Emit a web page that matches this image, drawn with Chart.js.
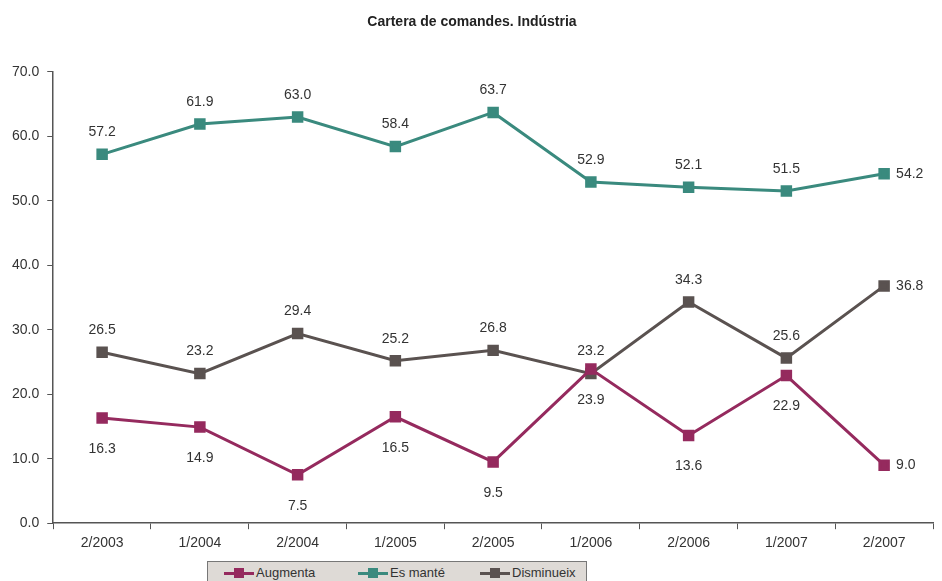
<!DOCTYPE html>
<html><head><meta charset="utf-8">
<script src="https://cdn.jsdelivr.net/npm/chart.js@4"></script>
<style>
body{margin:0;background:#fff;font-family:"Liberation Sans",Arial,sans-serif;}
#wrap{position:relative;width:942px;height:581px;}
#legend{position:absolute;left:207px;top:561px;width:380px;height:24px;background:#dedad6;border:1px solid #777;box-sizing:border-box;font-size:13px;color:#333;}
.it{position:absolute;top:3px;}
.ln{display:inline-block;width:30px;height:3px;vertical-align:middle;position:relative;margin-right:2px;}
.ln b{position:absolute;left:10px;top:-4px;width:10px;height:10px;}
</style></head><body>
<div id="wrap"><canvas id="c" width="942" height="581"></canvas>
<div id="legend">
<span class="it" style="left:16px"><span class="ln" style="background:#952a5e"><b style="background:#952a5e"></b></span>Augmenta</span>
<span class="it" style="left:150px"><span class="ln" style="background:#3a8a7e"><b style="background:#3a8a7e"></b></span>Es manté</span>
<span class="it" style="left:272px"><span class="ln" style="background:#5a5250"><b style="background:#5a5250"></b></span>Disminueix</span>
</div></div>
<script>
const categories=["2/2003","1/2004","2/2004","1/2005","2/2005","1/2006","2/2006","1/2007","2/2007"];
const augmenta=[16.3,14.9,7.5,16.5,9.5,23.9,13.6,22.9,9.0];
const esMante=[57.2,61.9,63.0,58.4,63.7,52.9,52.1,51.5,54.2];
const disminueix=[26.5,23.2,29.4,25.2,26.8,23.2,34.3,25.6,36.8];
const colors=["#952a5e","#3a8a7e","#5a5250"];
const labelPos=["below","above","above"];

const labelsPlugin={
id:"pointLabels",
afterDatasetsDraw(chart){
const ctx=chart.ctx;
ctx.save();
ctx.font="14px 'Liberation Sans', Arial, sans-serif";
ctx.fillStyle="#333";
chart.data.datasets.forEach((ds,i)=>{
chart.getDatasetMeta(i).data.forEach((p,j)=>{
const t=ds.data[j].toFixed(1);
ctx.textBaseline="middle";
if(j===ds.data.length-1){
ctx.textAlign="left";
ctx.fillText(t,p.x+12,p.y);
}else if(labelPos[i]==="below"){
ctx.textAlign="center";
ctx.fillText(t,p.x,p.y+31);
}else{
ctx.textAlign="center";
ctx.fillText(t,p.x,p.y-22);
}
});
});
ctx.restore();
}
};

function ds(label,data,c){
return {label,data,borderColor:c,backgroundColor:c,borderWidth:3,pointStyle:"rect",pointRadius:6,pointHoverRadius:6,tension:0};
}

new Chart(document.getElementById("c"),{
type:"line",
data:{labels:categories,datasets:[ds("Augmenta",augmenta,colors[0]),ds("Es manté",esMante,colors[1]),ds("Disminueix",disminueix,colors[2])]},
options:{
responsive:false,animation:false,
layout:{padding:{left:4,right:2,top:0,bottom:23}},
plugins:{legend:{display:false},tooltip:{enabled:false},
title:{display:true,text:"Cartera de comandes. Indústria",color:"#222",font:{size:14,weight:"bold",family:"'Liberation Sans', Arial"},padding:{top:14,bottom:41}}},
scales:{
x:{offset:true,grid:{offset:true,drawOnChartArea:false,tickLength:6,color:"#555"},border:{color:"#555",width:1.5},
ticks:{color:"#333",font:{size:14,family:"'Liberation Sans', Arial"},padding:6}},
y:{min:0,max:70,grid:{drawOnChartArea:false,tickLength:6,color:"#555"},border:{color:"#555",width:1.5},
ticks:{stepSize:10,color:"#333",callback:v=>v.toFixed(1),font:{size:14,family:"'Liberation Sans', Arial"},padding:8}}
}
},
plugins:[labelsPlugin]
});
</script></body></html>
